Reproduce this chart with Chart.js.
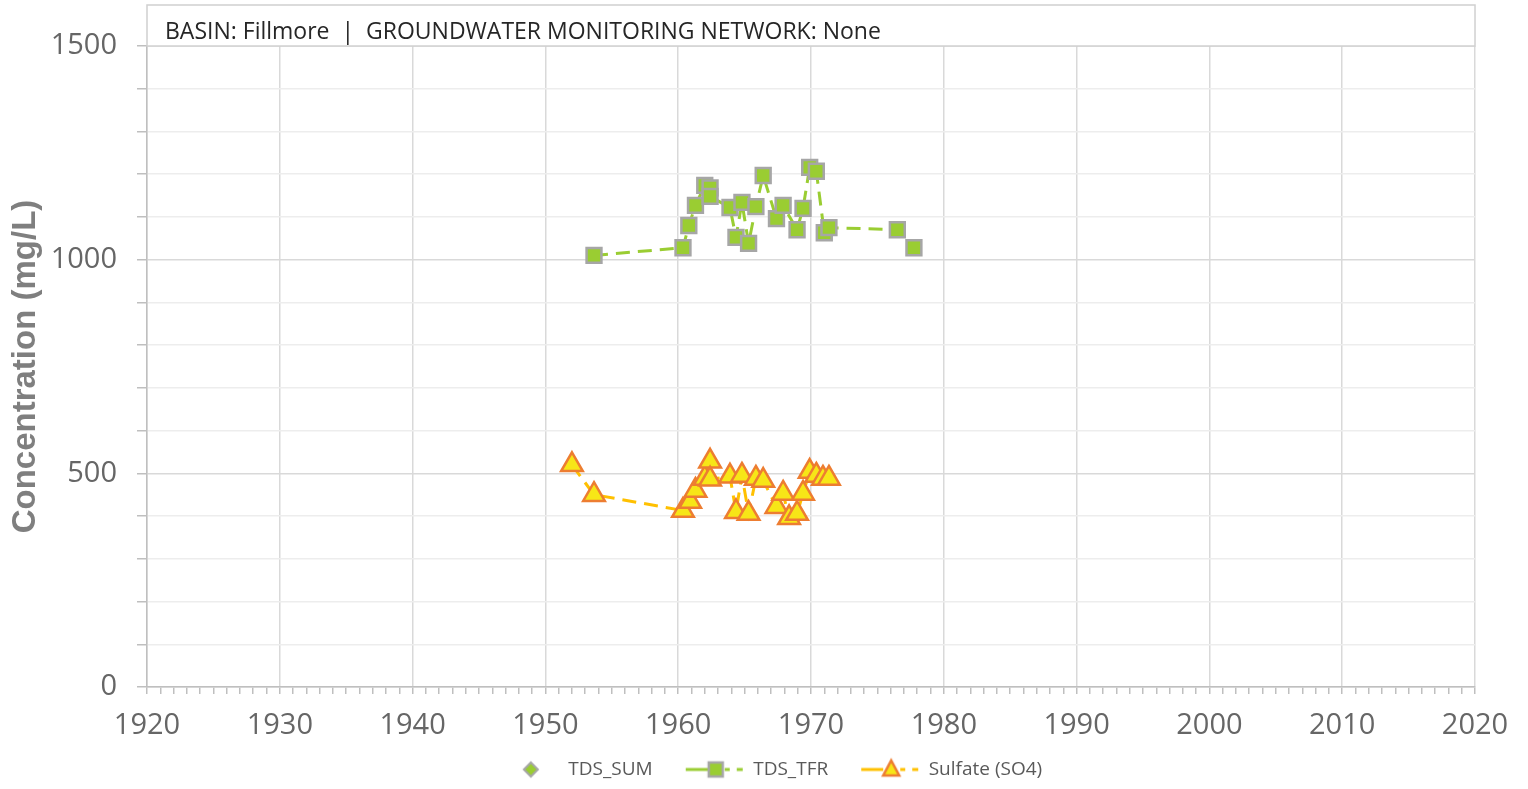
<!DOCTYPE html>
<html>
<head>
<meta charset="utf-8">
<script src="https://cdn.jsdelivr.net/npm/chart.js@4.4.1/dist/chart.umd.min.js"></script>
<style>
  html, body { margin: 0; padding: 0; background: #fff; }
  #wrap { width: 1528px; height: 789px; }
</style>
</head>
<body>
<div id="wrap"><canvas id="chart"></canvas></div>
<script>
// Дані графіка
const tfrDates = [1953.66, 1960.36, 1960.8, 1961.3, 1962.0, 1962.4, 1962.4, 1963.9, 1964.35, 1964.8, 1965.3, 1965.85,
  1966.4, 1967.4, 1967.9, 1968.95, 1969.4, 1969.9, 1970.4, 1971.0, 1971.35, 1976.5, 1977.75];
const tfrValues = [1010, 1028, 1080, 1127, 1174, 1168, 1148, 1122, 1052, 1134, 1038, 1124,
  1197, 1096, 1127, 1070, 1120, 1216, 1207, 1063, 1075, 1070, 1028];

const so4Dates = [1952.0, 1953.66, 1960.36, 1960.9, 1961.3, 1962.0, 1962.4, 1962.4, 1963.9, 1964.35, 1964.8, 1965.3,
  1965.85, 1966.4, 1967.4, 1967.9, 1968.35, 1968.95, 1969.4, 1969.9, 1970.4, 1970.9, 1971.35];
const so4Values = [520, 450, 413, 434, 460, 488, 528, 486, 493, 410, 495, 406,
  488, 483, 422, 453, 396, 406, 453, 504, 495, 488, 488];

const sumDates = [];
const sumValues = [];

const seriesNames = ['TDS_SUM', 'TDS_TFR', 'Sulfate (SO4)'];
const headerText = 'BASIN: Fillmore  |  GROUNDWATER MONITORING NETWORK: None';
const yTitle = 'Concentration (mg/L)';

function toPoints(xs, ys) {
  return xs.map((x, i) => ({ x: x, y: ys[i] }));
}

// Іконки для легенди (лінія + маркер)
const ICON_W = 86, ICON_M = 58;
function legendIcon(lineColor, drawMarker) {
  const c = document.createElement('canvas');
  c.width = ICON_W; c.height = 26;
  const g = c.getContext('2d');
  if (lineColor) {
    g.strokeStyle = lineColor;
    g.lineWidth = 3;
    g.beginPath();
    g.moveTo(ICON_M - 30, 13); g.lineTo(ICON_M - 8, 13);
    g.stroke();
    g.beginPath();
    g.moveTo(ICON_M + 9, 13); g.lineTo(ICON_M + 14, 13);
    g.moveTo(ICON_M + 21, 13); g.lineTo(ICON_M + 27, 13);
    g.stroke();
  }
  drawMarker(g, ICON_M, 13);
  return c;
}

const iconSum = legendIcon(null, (g, x, y) => {
  g.fillStyle = '#9ACD32'; g.strokeStyle = '#A6A6A6'; g.lineWidth = 2;
  g.beginPath();
  g.moveTo(x, y - 7); g.lineTo(x + 7, y); g.lineTo(x, y + 7); g.lineTo(x - 7, y); g.closePath();
  g.fill(); g.stroke();
});
const iconTfr = legendIcon('#9ACD32', (g, x, y) => {
  g.fillStyle = '#9ACD32'; g.strokeStyle = '#A6A6A6'; g.lineWidth = 2.5;
  g.fillRect(x - 7, y - 7, 14, 14); g.strokeRect(x - 7, y - 7, 14, 14);
});
const iconSo4 = legendIcon('#FFC000', (g, x, y) => {
  g.fillStyle = '#F7E617'; g.strokeStyle = '#ED7D31'; g.lineWidth = 2.5;
  g.beginPath();
  g.moveTo(x, y - 9); g.lineTo(x + 8, y + 6); g.lineTo(x - 8, y + 6); g.closePath();
  g.fill(); g.stroke();
});
const icons = [iconSum, iconTfr, iconSo4];

// Рамка з підписом басейну та назва осі Y
const extras = {
  id: 'extras',
  afterDraw(chart) {
    const { ctx, chartArea } = chart;
    ctx.save();
    ctx.strokeStyle = '#D0D0D0';
    ctx.lineWidth = 1.5;
    ctx.fillStyle = '#fff';
    ctx.fillRect(chartArea.left, 5, chartArea.right - chartArea.left, chartArea.top - 5);
    ctx.strokeRect(chartArea.left, 5, chartArea.right - chartArea.left, chartArea.top - 5);
    ctx.fillStyle = '#262626';
    ctx.font = '23px "Open Sans"';
    ctx.textBaseline = 'middle';
    ctx.fillText(headerText, 165, 32);
    ctx.restore();

    ctx.save();
    ctx.translate(26, (chartArea.top + chartArea.bottom) / 2);
    ctx.rotate(-Math.PI / 2);
    ctx.fillStyle = '#7F7F7F';
    ctx.font = 'bold 33px "Liberation Sans"';
    ctx.textAlign = 'center';
    ctx.textBaseline = 'middle';
    ctx.fillText(yTitle, 0, 0);
    ctx.restore();
  }
};

const ctx = document.getElementById('chart').getContext('2d');
const chart = new Chart(ctx, {
  type: 'scatter',
  data: {
    datasets: [
      {
        label: seriesNames[0],
        data: toPoints(sumDates, sumValues),
        pointStyle: 'rectRot',
        pointRadius: 7,
        backgroundColor: '#9ACD32',
        borderColor: '#A6A6A6',
        borderWidth: 2,
        showLine: false
      },
      {
        label: seriesNames[1],
        data: toPoints(tfrDates, tfrValues),
        showLine: true,
        borderColor: '#9ACD32',
        borderWidth: 3,
        borderDash: [14, 8],
        pointStyle: 'rect',
        pointRadius: 10.5,
        pointBackgroundColor: '#9ACD32',
        pointBorderColor: '#A6A6A6',
        pointBorderWidth: 2.5,
        backgroundColor: '#9ACD32'
      },
      {
        label: seriesNames[2],
        data: toPoints(so4Dates, so4Values),
        showLine: true,
        borderColor: '#FFC000',
        borderWidth: 3,
        borderDash: [14, 8],
        pointStyle: 'triangle',
        pointRadius: 12.5,
        pointBackgroundColor: '#F7E617',
        pointBorderColor: '#ED7D31',
        pointBorderWidth: 2.5,
        backgroundColor: '#F7E617'
      }
    ]
  },
  options: {
    responsive: true,
    maintainAspectRatio: false,
    animation: false,
    layout: { padding: { top: 46, right: 53, left: 40, bottom: 0 } },
    plugins: {
      tooltip: { enabled: false },
      legend: {
        position: 'bottom',
        labels: {
          usePointStyle: true,
          pointStyleWidth: ICON_W,
          padding: 5,
          color: '#595959',
          font: { family: 'Open Sans', size: 19 },
          generateLabels(chart) {
            const items = Chart.defaults.plugins.legend.labels.generateLabels(chart);
            items.forEach((it, i) => { it.pointStyle = icons[i]; });
            return items;
          }
        }
      }
    },
    scales: {
      x: {
        type: 'linear',
        min: 1920,
        max: 2020,
        afterFit(scale) { scale.height = 68; },
        border: { color: '#BFBFBF', width: 1.5 },
        grid: {
          color: c => (c.tick && c.tick.value % 10 === 0) ? '#D9D9D9' : 'rgba(0,0,0,0)',
          tickColor: '#BFBFBF',
          tickLength: 7,
          lineWidth: 1.5
        },
        ticks: {
          stepSize: 1,
          autoSkip: false,
          maxRotation: 0,
          padding: 14,
          color: '#666',
          font: { family: 'Open Sans', size: 29 },
          callback: v => (v % 10 === 0 ? String(v) : '')
        }
      },
      y: {
        min: 0,
        max: 1500,
        afterFit(scale) { scale.width = 107; },
        border: { color: '#BFBFBF', width: 1.5 },
        grid: {
          color: c => (c.tick && c.tick.value % 500 === 0) ? '#D9D9D9' : '#EDEDED',
          tickColor: '#BFBFBF',
          tickLength: 10,
          lineWidth: 1.5
        },
        ticks: {
          stepSize: 100,
          padding: 20,
          color: '#666',
          font: { family: 'Open Sans', size: 29 },
          callback: v => (v % 500 === 0 ? String(v) : '')
        }
      }
    }
  },
  plugins: [extras]
});
</script>
</body>
</html>
